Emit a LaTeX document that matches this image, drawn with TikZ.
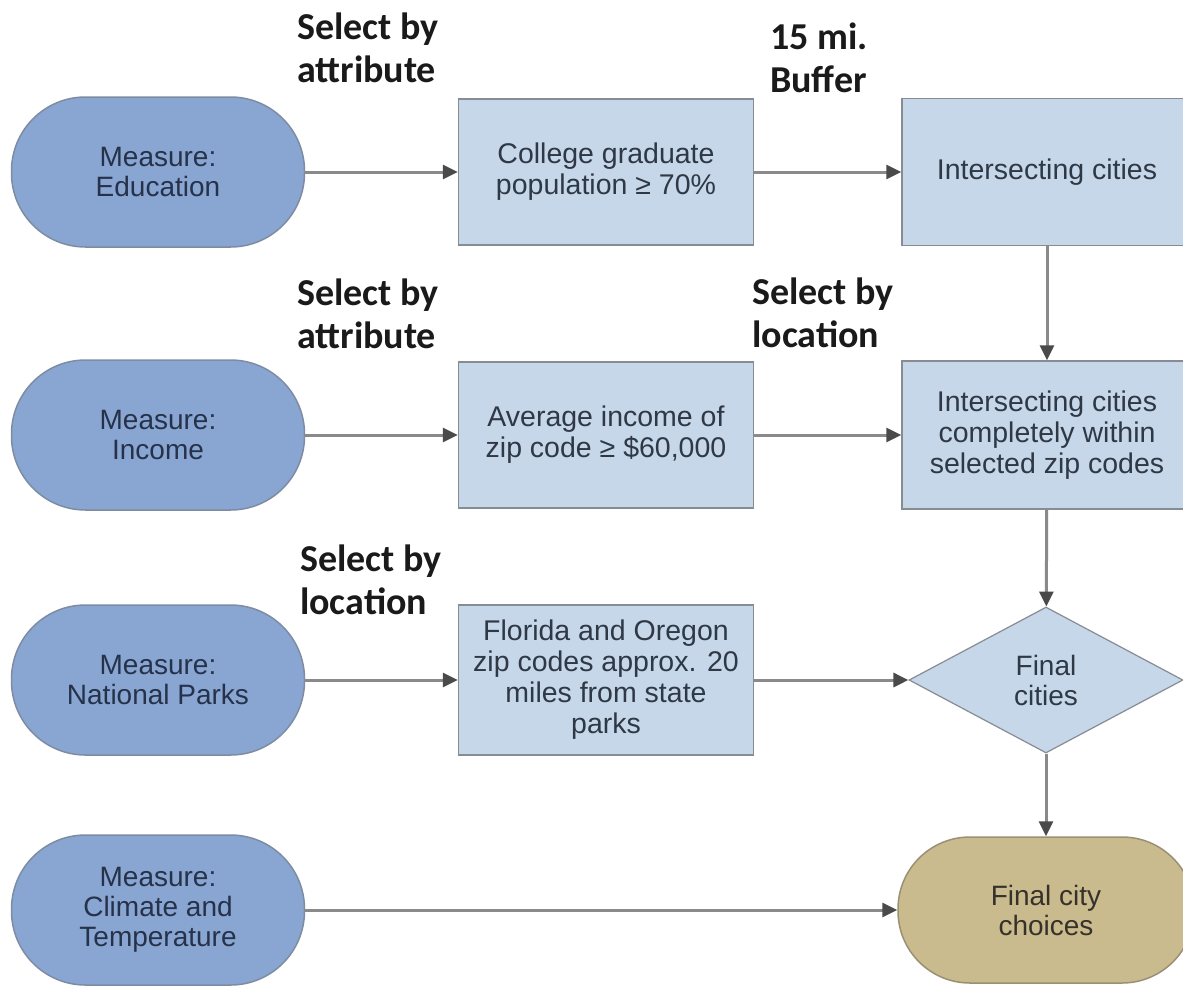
\documentclass[tikz,border=0pt]{standalone}
\usepackage{fontspec}
\setmainfont{Liberation Sans}
\newfontfamily\labfont{Carlito}
\usetikzlibrary{arrows.meta,shapes.geometric}
\definecolor{termF}{HTML}{89A6D2}
\definecolor{termB}{HTML}{7E8CA3}
\definecolor{termT}{HTML}{26324A}
\definecolor{boxF}{HTML}{C6D7EA}
\definecolor{boxB}{HTML}{878C93}
\definecolor{boxT}{HTML}{2F3845}
\definecolor{tanF}{HTML}{C9BB8D}
\definecolor{tanB}{HTML}{9A9073}
\definecolor{tanT}{HTML}{36322A}
\definecolor{arrL}{HTML}{8A8A8A}
\definecolor{arrT}{HTML}{4A4A4A}
\definecolor{labT}{HTML}{1A1A1A}
\tikzset{
  term/.style={draw=termB, fill=termF, line width=1.5pt, rounded corners=74pt,
    minimum width=293pt, minimum height=150pt, text=termT, align=center,
    font=\fontsize{28}{30}\selectfont},
  procbox/.style={draw=boxB, fill=boxF, line width=1.5pt,
    minimum width=295pt, minimum height=146pt, text=boxT, align=center,
    font=\fontsize{28.5}{31}\selectfont},
  decide/.style={diamond, draw=boxB, fill=boxF, line width=1.2pt,
    minimum width=274pt, minimum height=146pt, text=boxT, align=center,
    inner sep=0pt, font=\fontsize{28}{30}\selectfont},
  endterm/.style={draw=tanB, fill=tanF, line width=1.5pt, rounded corners=72pt,
    minimum width=296pt, minimum height=146pt, text=tanT, align=center,
    font=\fontsize{28}{30}\selectfont},
  lab/.style={anchor=north west, inner sep=0pt, align=left, text=labT,
    font=\labfont\bfseries\fontsize{38}{43}\selectfont},
  arr/.style={draw=arrL, line width=3pt,
    -{Triangle[length=15pt,width=14pt,color=arrT]}}
}
\begin{document}
\begin{tikzpicture}[x=1pt,y=-1pt]
\useasboundingbox[fill=white] (0,0) rectangle (1183,986);
% left terminals
\node[term] (edu) at (158,172) {Measure:\\Education};
\node[term] (inc) at (158,435) {Measure:\\Income};
\node[term] (par) at (158,680) {Measure:\\National Parks};
\node[term] (cli) at (158,910) {Measure:\\Climate and\\Temperature};
% middle boxes
\node[procbox] (col) at (606,172) {College graduate\\population ≥ 70\%};
\node[procbox] (avg) at (606,435) {Average income of\\zip code ≥ \$60,000};
\node[procbox, minimum height=150pt] (flo) at (606,680) {Florida and Oregon\\zip codes approx. 20\\miles from state\\parks};
% right column
\node[procbox, minimum width=290pt, minimum height=147pt] (int) at (1047,172) {Intersecting cities};
\node[procbox, minimum width=290pt, minimum height=148pt] (int2) at (1047,435) {Intersecting cities\\completely within\\selected zip codes};
\node[decide] (dia) at (1046,680) {Final\\cities};
\node[endterm] (fin) at (1046,910) {Final city\\choices};
% labels
\node[lab] (l1) at (297,13) {Select by\\attribute};
\node[lab] (l2) at (770,23) {15 mi.\\Buffer};
\node[lab] (l3) at (297,279) {Select by\\attribute};
\node[lab] (l4) at (752,278) {Select by\\location};
\node[lab] (l5) at (300,545) {Select by\\location};
% connectors
\draw[arr] (edu) -- (col);
\draw[arr] (col) -- (int);
\draw[arr] (inc) -- (avg);
\draw[arr] (avg) -- (int2);
\draw[arr] (par) -- (flo);
\draw[arr] (flo) -- (dia);
\draw[arr] (cli) -- (fin);
\draw[arr] (int) -- (int2);
\draw[arr] (int2) -- (dia);
\draw[arr] (dia) -- (fin);
\end{tikzpicture}
\end{document}
